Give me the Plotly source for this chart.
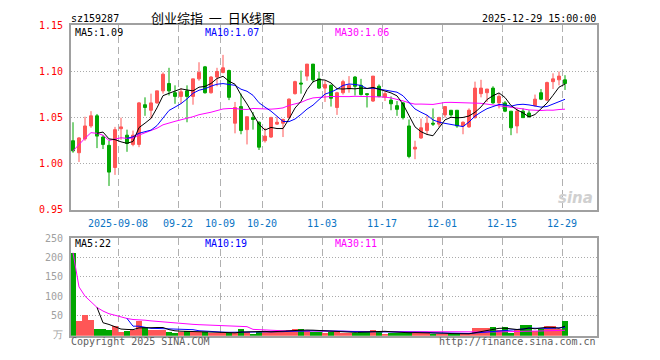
import pandas as pd
import plotly.graph_objects as go

# ---------------- data ----------------
dates = [d.strftime("%Y-%m-%d") for d in pd.bdate_range("2025-08-27", "2025-12-29")
         if not ("2025-10-01" <= d.strftime("%Y-%m-%d") <= "2025-10-08")]

opens = [1.025, 1.012, 1.027, 1.041, 1.052, 1.029, 1.020, 0.996, 1.038, 1.031,
         1.021, 1.021, 1.064, 1.058, 1.066, 1.079, 1.087, 1.077, 1.073, 1.079,
         1.073, 1.092, 1.105, 1.077, 1.094, 1.099, 1.101, 1.044, 1.062, 1.037,
         1.050, 1.045, 1.025, 1.029, 1.043, 1.044, 1.050, 1.076, 1.0875, 1.095,
         1.108, 1.092, 1.082, 1.085, 1.061, 1.077, 1.081, 1.094, 1.085, 1.076,
         1.068, 1.084, 1.072, 1.069, 1.063, 1.066, 1.041, 1.016, 1.028, 1.036,
         1.044, 1.043, 1.053, 1.058, 1.058, 1.041, 1.040, 1.050, 1.076, 1.077,
         1.082, 1.066, 1.066, 1.057, 1.041, 1.057, 1.055, 1.063, 1.077, 1.069,
         1.089, 1.091, 1.091]
highs = [1.045, 1.029, 1.051, 1.057, 1.054, 1.031, 1.025, 1.040, 1.050, 1.037,
         1.036, 1.067, 1.072, 1.076, 1.079, 1.099, 1.104, 1.085, 1.082, 1.085,
         1.092, 1.110, 1.106, 1.095, 1.104, 1.118, 1.102, 1.067, 1.076, 1.051,
         1.056, 1.046, 1.039, 1.051, 1.051, 1.049, 1.071, 1.090, 1.101, 1.108,
         1.108, 1.100, 1.090, 1.086, 1.078, 1.091, 1.095, 1.095, 1.092, 1.076,
         1.095, 1.086, 1.078, 1.073, 1.068, 1.067, 1.048, 1.025, 1.049, 1.053,
         1.060, 1.051, 1.062, 1.058, 1.058, 1.046, 1.060, 1.089, 1.091, 1.081,
         1.084, 1.076, 1.068, 1.057, 1.060, 1.060, 1.058, 1.075, 1.081, 1.089,
         1.098, 1.100, 1.096]
lows = [1.012, 1.002, 1.025, 1.039, 1.017, 1.016, 0.976, 0.988, 1.026, 1.013,
        1.019, 1.018, 1.052, 1.049, 1.065, 1.076, 1.074, 1.065, 1.065, 1.045,
        1.064, 1.090, 1.076, 1.076, 1.084, 1.098, 1.069, 1.033, 1.032, 1.021,
        1.037, 1.015, 1.023, 1.028, 1.042, 1.029, 1.049, 1.075, 1.076, 1.090,
        1.088, 1.081, 1.067, 1.062, 1.053, 1.075, 1.077, 1.074, 1.074, 1.061,
        1.067, 1.072, 1.068, 1.058, 1.052, 1.048, 1.006, 1.005, 1.027, 1.032,
        1.041, 1.040, 1.050, 1.051, 1.039, 1.032, 1.039, 1.049, 1.072, 1.067,
        1.065, 1.060, 1.056, 1.031, 1.033, 1.050, 1.050, 1.062, 1.069, 1.068,
        1.081, 1.085, 1.080]
closes = [1.014, 1.028, 1.041, 1.052, 1.030, 1.021, 0.991, 1.037, 1.040, 1.022,
          1.031, 1.066, 1.061, 1.066, 1.079, 1.097, 1.079, 1.073, 1.078, 1.073,
          1.092, 1.099, 1.077, 1.094, 1.100, 1.104, 1.072, 1.061, 1.036, 1.051,
          1.048, 1.018, 1.030, 1.050, 1.045, 1.048, 1.070, 1.089, 1.0865, 1.108,
          1.091, 1.082, 1.086, 1.071, 1.077, 1.089, 1.085, 1.084, 1.075, 1.075,
          1.095, 1.073, 1.076, 1.065, 1.059, 1.050, 1.008, 1.018, 1.039, 1.044,
          1.043, 1.050, 1.062, 1.053, 1.041, 1.045, 1.058, 1.082, 1.082, 1.081,
          1.066, 1.073, 1.057, 1.039, 1.057, 1.050, 1.051, 1.070, 1.070, 1.088,
          1.092, 1.095, 1.087]
volumes = [212, 35, 52, 37.5, 15, 15, 12.5, 22.5, 7.5, 10,
           12.5, 35, 20, 12.5, 12.5, 12.5, 7.5, 5, 7.5, 9,
           7.5, 7.5, 6.5, 5, 5, 5, 3.5, 5, 15, 8,
           2.5, 6.5, 10.5, 9, 9, 9, 11.5, 15, 15, 9,
           7.5, 7.5, 5, 7.5, 7.5, 5, 5, 5, 10.5, 10.5,
           12.5, 7.5, 2.5, 5, 5, 4, 8, 5, 5, 5,
           2, 3, 3, 1.5, 1.5, 2, 3, 17, 17, 17,
           19, 12, 19, 4, 13, 24, 26, 9, 15, 22,
           22, 15, 36]

tick_labels = ["2025-09-08", "09-22", "10-09", "10-20", "11-03", "11-17", "12-01", "12-15", "12-29"]
tick_dates = ["2025-09-08", "2025-09-22", "2025-10-09", "2025-10-20", "2025-11-03",
              "2025-11-17", "2025-12-01", "2025-12-15", "2025-12-29"]
price_ticks = [0.95, 1.00, 1.05, 1.10, 1.15]
vol_ticks = [0, 50, 100, 150, 200, 250]
vol_tick_text = ["万", "50", "100", "150", "200", "250"]

# ---------------- derived ----------------
idx = list(range(len(dates)))
cs = pd.Series(closes)
vs = pd.Series(volumes)
ma5 = cs.rolling(5).mean()
ma10 = cs.rolling(10).mean()
ma30 = cs.rolling(30, min_periods=1).mean()
vma5 = vs.rolling(5).mean()
vma10 = vs.rolling(10).mean()
vma30 = vs.rolling(30, min_periods=1).mean()

RED = "#ff5656"
GREEN = "#00a600"
vcolors = [RED if c >= o else GREEN for o, c in zip(opens, closes)]
tickpos = [dates.index(d) - 0.5 for d in tick_dates]

W, H = 660, 360
MONO = "DejaVu Sans Mono"
FS = 10

fig = go.Figure()
fig.add_trace(go.Candlestick(
    x=idx, open=opens, high=highs, low=lows, close=closes,
    increasing=dict(line=dict(color=RED, width=1), fillcolor=RED),
    decreasing=dict(line=dict(color=GREEN, width=1), fillcolor=GREEN),
    whiskerwidth=0, xaxis="x", yaxis="y", showlegend=False))
for s, col in [(ma30, "#ff00ff"), (ma10, "#0000ff"), (ma5, "#000000")]:
    fig.add_trace(go.Scatter(x=idx, y=s, mode="lines", line=dict(color=col, width=1),
                             xaxis="x", yaxis="y", showlegend=False))

VBASE = -2.5
fig.add_trace(go.Bar(x=idx, y=[v - VBASE for v in volumes], base=VBASE,
                     marker=dict(color=vcolors, line=dict(width=0)),
                     width=0.85, xaxis="x2", yaxis="y2", showlegend=False))
for s, col in [(vma30, "#ff00ff"), (vma10, "#0000ff"), (vma5, "#000000")]:
    fig.add_trace(go.Scatter(x=idx, y=s, mode="lines", line=dict(color=col, width=1),
                             xaxis="x2", yaxis="y2", showlegend=False))

xl, xr = 71, 597
xrange = [-(73 - xl) / 6, (xr - 73) / 6]
xdom = [xl / W, xr / W]

def py(p):
    return 1 - p / H

axis_common = dict(showline=True, linecolor="#a0a0a0", linewidth=2, mirror=True, zeroline=False)
fig.update_layout(
    width=W, height=H, margin=dict(l=0, r=0, t=0, b=0),
    paper_bgcolor="white", plot_bgcolor="white",
    xaxis=dict(domain=xdom, range=xrange, tickvals=tickpos, ticktext=tick_labels,
               tickfont=dict(family=MONO, size=FS, color="#0a74c4"),
               showgrid=True, gridcolor="#b0b0b0", griddash="7px,4px", gridwidth=1,
               ticks="outside", ticklen=3, tickcolor="rgba(0,0,0,0)",
               rangeslider=dict(visible=False), anchor="y", **axis_common),
    yaxis=dict(domain=[py(211), py(20)], range=[0.95, 1.15], tickvals=price_ticks,
               ticktext=[f"{v:.2f}" for v in price_ticks],
               tickfont=dict(family=MONO, size=FS, color="#ff0000"),
               showgrid=True, gridcolor="#aaaaaa", griddash="1px,2px", gridwidth=1,
               ticks="outside", ticklen=4, tickcolor="rgba(0,0,0,0)", anchor="x", **axis_common),
    xaxis2=dict(domain=xdom, range=xrange, tickvals=tickpos, showticklabels=False,
                showgrid=True, gridcolor="#b0b0b0", griddash="7px,4px", gridwidth=1,
                ticks="", anchor="y2", **axis_common),
    yaxis2=dict(domain=[py(341), py(240)], range=[VBASE, 250], tickvals=vol_ticks, ticktext=vol_tick_text,
                tickfont=dict(family=MONO, size=FS, color="#a0a0a0"),
                showgrid=True, gridcolor="#aaaaaa", griddash="1px,2px", gridwidth=1,
                ticks="outside", ticklen=4, tickcolor="rgba(0,0,0,0)", anchor="x2", **axis_common),
    bargap=0,
)

def txt(text, x, y, color="#000", size=FS, anchor="left", family=MONO):
    fig.add_annotation(text=text, x=x / W, y=py(y), xref="paper", yref="paper",
                       xanchor=anchor, yanchor="middle", showarrow=False,
                       font=dict(family=family, size=size, color=color))

txt("sz159287", 69, 13)
txt("创业综指&nbsp;&nbsp;一&nbsp;&nbsp;日K线图", 213, 12, size=13, anchor="center",
    family="Noto Sans CJK SC")
txt("2025-12-29 15:00:00", 598, 13, anchor="right")
txt(f"MA5:{ma5.iloc[-1]:.2f}", 73, 27)
txt(f"MA10:{ma10.iloc[-1]:.2f}", 203, 27, color="#0000ff")
txt(f"MA30:{ma30.iloc[-1]:.2f}", 333, 27, color="#ff00ff")
txt(f"MA5:{vma5.iloc[-1]:.0f}", 73, 246)
txt(f"MA10:{vma10.iloc[-1]:.0f}", 203, 246, color="#0000ff")
txt(f"MA30:{vma30.iloc[-1]:.0f}", 333, 246, color="#ff00ff")
txt("Copyright 2025 SINA.COM", 69, 347, color="#606060")
txt("http://finance.sina.com.cn", 598, 347, color="#606060", anchor="right")
fig.add_annotation(text="<b><i>sina</i></b>", x=595 / W, y=py(199), xref="paper", yref="paper",
                   xanchor="right", yanchor="middle", showarrow=False,
                   font=dict(family="DejaVu Sans", size=15, color="#d0d0d0"))

fig.write_html("out.html")
